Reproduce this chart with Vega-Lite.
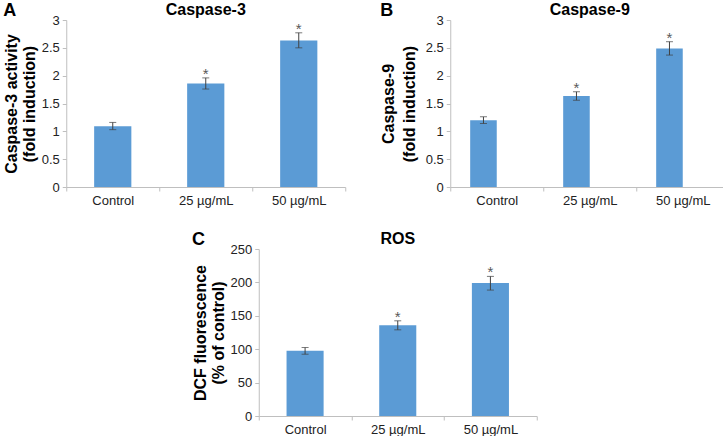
{
  "$schema": "https://vega.github.io/schema/vega-lite/v6.json",
  "background": "white",
  "padding": {"left": 3, "top": 2, "right": 0, "bottom": 0},
  "datasets": {
    "caspase3": [
      {"group": "Control", "mean": 1.09, "lower": 1.03, "upper": 1.16, "sig": ""},
      {"group": "25 µg/mL", "mean": 1.86, "lower": 1.76, "upper": 1.96, "sig": "*"},
      {"group": "50 µg/mL", "mean": 2.63, "lower": 2.5, "upper": 2.77, "sig": "*"}
    ],
    "caspase9": [
      {"group": "Control", "mean": 1.2, "lower": 1.14, "upper": 1.26, "sig": ""},
      {"group": "25 µg/mL", "mean": 1.635, "lower": 1.56, "upper": 1.71, "sig": "*"},
      {"group": "50 µg/mL", "mean": 2.49, "lower": 2.37, "upper": 2.61, "sig": "*"}
    ],
    "ros": [
      {"group": "Control", "mean": 97.5, "lower": 92.5, "upper": 102.5, "sig": ""},
      {"group": "25 µg/mL", "mean": 136, "lower": 129, "upper": 142.5, "sig": "*"},
      {"group": "50 µg/mL", "mean": 199, "lower": 188.5, "upper": 209, "sig": "*"}
    ]
  },
  "config": {
    "view": {"stroke": null},
    "font": "Liberation Sans",
    "title": {"font": "Liberation Sans", "color": "#000000"},
    "axis": {
      "grid": false,
      "domainColor": "#bfbfbf",
      "tickColor": "#bfbfbf",
      "tickSize": 4,
      "labelFont": "Liberation Sans",
      "labelFontSize": 13,
      "labelColor": "#222222",
      "titleFont": "Liberation Sans",
      "titleFontSize": 16,
      "titleFontWeight": "bold",
      "titleColor": "#000000"
    },
    "axisX": {"labelAngle": 0, "labelPadding": 3, "tickBand": "extent"},
    "axisY": {"labelPadding": 3, "titlePadding": 4, "titleLineHeight": 18, "labelOverlap": false}
  },
  "spacing": 24,
  "center": true,
  "vconcat": [
    {
      "spacing": 33,
      "hconcat": [
        {
          "title": {"text": "A", "anchor": "start", "frame": "bounds", "offset": -18, "fontSize": 18, "fontWeight": "bold"},
          "vconcat": [
            {
              "width": 279,
              "height": 167,
              "title": {"text": "Caspase-3", "anchor": "middle", "fontSize": 16, "fontWeight": "bold", "offset": -4},
              "data": {"name": "caspase3"},
              "encoding": {
                "x": {"field": "group", "type": "nominal", "sort": null, "title": null, "scale": {"paddingInner": 0, "paddingOuter": 0}}
              },
              "layer": [
                {
                  "mark": {"type": "bar", "color": "#5B9BD5", "width": {"band": 0.4}},
                  "encoding": {
                    "y": {"field": "mean", "type": "quantitative", "title": ["Caspase-3 activity", "(fold induction)"], "scale": {"domain": [0, 3], "nice": false}, "axis": {"values": [0, 0.5, 1, 1.5, 2, 2.5, 3], "format": "~g"}}
                  }
                },
                {
                  "mark": {"type": "rule", "color": "#404040", "strokeWidth": 1},
                  "encoding": {
                    "y": {"field": "lower", "type": "quantitative", "title": ["Caspase-3 activity", "(fold induction)"], "axis": {"values": [0, 0.5, 1, 1.5, 2, 2.5, 3], "format": "~g"}},
                    "y2": {"field": "upper"}
                  }
                },
                {
                  "mark": {"type": "tick", "color": "#404040", "thickness": 1, "size": 7, "orient": "horizontal"},
                  "encoding": {"y": {"field": "lower", "type": "quantitative", "title": ["Caspase-3 activity", "(fold induction)"], "axis": {"values": [0, 0.5, 1, 1.5, 2, 2.5, 3], "format": "~g"}}}
                },
                {
                  "mark": {"type": "tick", "color": "#404040", "thickness": 1, "size": 7, "orient": "horizontal"},
                  "encoding": {"y": {"field": "upper", "type": "quantitative", "title": ["Caspase-3 activity", "(fold induction)"], "axis": {"values": [0, 0.5, 1, 1.5, 2, 2.5, 3], "format": "~g"}}}
                },
                {
                  "mark": {"type": "text", "baseline": "alphabetic", "dy": 1, "fontSize": 15, "color": "#595959"},
                  "encoding": {
                    "y": {"field": "upper", "type": "quantitative", "title": ["Caspase-3 activity", "(fold induction)"], "axis": {"values": [0, 0.5, 1, 1.5, 2, 2.5, 3], "format": "~g"}},
                    "text": {"field": "sig"}
                  }
                }
              ]
            }
          ]
        },
        {
          "title": {"text": "B", "anchor": "start", "frame": "bounds", "offset": -18, "fontSize": 18, "fontWeight": "bold"},
          "vconcat": [
            {
              "width": 279,
              "height": 167,
              "title": {"text": "Caspase-9", "anchor": "middle", "fontSize": 16, "fontWeight": "bold", "offset": -4},
              "data": {"name": "caspase9"},
              "encoding": {
                "x": {"field": "group", "type": "nominal", "sort": null, "title": null, "scale": {"paddingInner": 0, "paddingOuter": 0}},
                "xOffset": {"datum": "s1", "type": "nominal", "scale": {"domain": ["s1", "s2"], "paddingInner": 0, "paddingOuter": 0.75}}
              },
              "layer": [
                {
                  "mark": {"type": "bar", "color": "#5B9BD5"},
                  "encoding": {
                    "y": {"field": "mean", "type": "quantitative", "title": ["Caspase-9", "(fold induction)"], "scale": {"domain": [0, 3], "nice": false}, "axis": {"values": [0, 0.5, 1, 1.5, 2, 2.5, 3], "format": "~g", "titleLineHeight": 21, "titlePadding": 8}}
                  }
                },
                {
                  "mark": {"type": "rule", "color": "#404040", "strokeWidth": 1},
                  "encoding": {
                    "y": {"field": "lower", "type": "quantitative", "title": ["Caspase-9", "(fold induction)"], "axis": {"values": [0, 0.5, 1, 1.5, 2, 2.5, 3], "format": "~g", "titleLineHeight": 21, "titlePadding": 8}},
                    "y2": {"field": "upper"}
                  }
                },
                {
                  "mark": {"type": "tick", "color": "#404040", "thickness": 1, "size": 7, "orient": "horizontal"},
                  "encoding": {"y": {"field": "lower", "type": "quantitative", "title": ["Caspase-9", "(fold induction)"], "axis": {"values": [0, 0.5, 1, 1.5, 2, 2.5, 3], "format": "~g", "titleLineHeight": 21, "titlePadding": 8}}}
                },
                {
                  "mark": {"type": "tick", "color": "#404040", "thickness": 1, "size": 7, "orient": "horizontal"},
                  "encoding": {"y": {"field": "upper", "type": "quantitative", "title": ["Caspase-9", "(fold induction)"], "axis": {"values": [0, 0.5, 1, 1.5, 2, 2.5, 3], "format": "~g", "titleLineHeight": 21, "titlePadding": 8}}}
                },
                {
                  "mark": {"type": "text", "baseline": "alphabetic", "dy": 1, "fontSize": 15, "color": "#595959"},
                  "encoding": {
                    "y": {"field": "upper", "type": "quantitative", "title": ["Caspase-9", "(fold induction)"], "axis": {"values": [0, 0.5, 1, 1.5, 2, 2.5, 3], "format": "~g", "titleLineHeight": 21, "titlePadding": 8}},
                    "text": {"field": "sig"}
                  }
                }
              ]
            }
          ]
        }
      ]
    },
    {
      "title": {"text": "C", "anchor": "start", "frame": "bounds", "offset": -18, "fontSize": 18, "fontWeight": "bold"},
      "vconcat": [
        {
          "width": 278,
          "height": 167,
          "title": {"text": "ROS", "anchor": "middle", "fontSize": 16, "fontWeight": "bold", "offset": -4},
          "data": {"name": "ros"},
          "encoding": {
            "x": {"field": "group", "type": "nominal", "sort": null, "title": null, "scale": {"paddingInner": 0, "paddingOuter": 0}}
          },
          "layer": [
            {
              "mark": {"type": "bar", "color": "#5B9BD5", "width": {"band": 0.4}},
              "encoding": {
                "y": {"field": "mean", "type": "quantitative", "title": ["DCF fluorescence", "(% of control)"], "scale": {"domain": [0, 250], "nice": false}, "axis": {"values": [0, 50, 100, 150, 200, 250]}}
              }
            },
            {
              "mark": {"type": "rule", "color": "#404040", "strokeWidth": 1},
              "encoding": {
                "y": {"field": "lower", "type": "quantitative", "title": ["DCF fluorescence", "(% of control)"], "axis": {"values": [0, 50, 100, 150, 200, 250]}},
                "y2": {"field": "upper"}
              }
            },
            {
              "mark": {"type": "tick", "color": "#404040", "thickness": 1, "size": 7, "orient": "horizontal"},
              "encoding": {"y": {"field": "lower", "type": "quantitative", "title": ["DCF fluorescence", "(% of control)"], "axis": {"values": [0, 50, 100, 150, 200, 250]}}}
            },
            {
              "mark": {"type": "tick", "color": "#404040", "thickness": 1, "size": 7, "orient": "horizontal"},
              "encoding": {"y": {"field": "upper", "type": "quantitative", "title": ["DCF fluorescence", "(% of control)"], "axis": {"values": [0, 50, 100, 150, 200, 250]}}}
            },
            {
              "mark": {"type": "text", "baseline": "alphabetic", "dy": 1, "fontSize": 15, "color": "#595959"},
              "encoding": {
                "y": {"field": "upper", "type": "quantitative", "title": ["DCF fluorescence", "(% of control)"], "axis": {"values": [0, 50, 100, 150, 200, 250]}},
                "text": {"field": "sig"}
              }
            }
          ]
        }
      ]
    }
  ]
}
